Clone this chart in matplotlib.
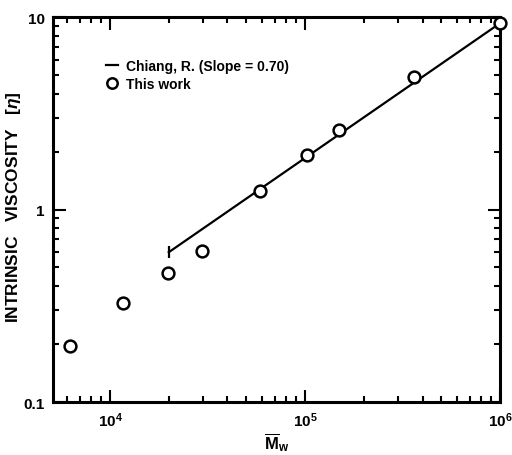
import matplotlib
matplotlib.use("Agg")
import matplotlib.pyplot as plt
from matplotlib.lines import Line2D
from matplotlib.ticker import LogLocator, NullFormatter, FixedLocator, FixedFormatter

plt.rcParams['font.family'] = ['Liberation Sans', 'DejaVu Sans']
plt.rcParams['font.weight'] = 'bold'
plt.rcParams['axes.labelweight'] = 'bold'
plt.rcParams['mathtext.fontset'] = 'custom'
plt.rcParams['mathtext.rm'] = 'Liberation Sans:bold'
plt.rcParams['mathtext.bf'] = 'Liberation Sans:bold'
plt.rcParams['mathtext.it'] = 'Liberation Sans:bold:italic'

# Data: this work
mw = [6200, 11700, 19800, 29700, 58800, 102000, 149000, 362000, 1000000]
visc = [0.195, 0.327, 0.468, 0.608, 1.25, 1.92, 2.59, 4.88, 9.3]

# Chiang, R. line (slope 0.70)
line_mw = [20000, 1000000]
line_visc = [0.60, 9.3]

fig = plt.figure(figsize=(5.12, 4.56), dpi=100)
ax = fig.add_axes([0.1035, 0.1162, 0.8735, 0.8443])
ax.set_xscale('log')
ax.set_yscale('log')
ax.set_xlim(5100, 1.0e6)
ax.set_ylim(0.1, 10)

ax.plot(line_mw, line_visc, color='black', lw=1.6, marker='|', markevery=[0],
        markersize=9, markeredgewidth=1.6)
ax.plot(mw, visc, linestyle='none', marker='o', markersize=8.5, markerfacecolor='white',
        markeredgecolor='black', markeredgewidth=1.8, clip_on=False, zorder=5)

for s in ax.spines.values():
    s.set_linewidth(2.2)

ax.xaxis.set_major_locator(FixedLocator([1e4, 1e5, 1e6]))
ax.xaxis.set_major_formatter(FixedFormatter([r'$10^4$', r'$10^5$', r'$10^6$']))
ax.xaxis.set_minor_locator(LogLocator(base=10, subs=range(2, 10)))
ax.xaxis.set_minor_formatter(NullFormatter())
ax.yaxis.set_major_locator(FixedLocator([0.1, 1, 10]))
ax.yaxis.set_major_formatter(FixedFormatter(['0.1', '1', '10']))
ax.yaxis.set_minor_locator(LogLocator(base=10, subs=range(2, 10)))
ax.yaxis.set_minor_formatter(NullFormatter())

ax.tick_params(which='both', direction='in', top=True, right=True, width=1.5, labelsize=11)
ax.tick_params(which='major', length=9, pad=6)
ax.tick_params(which='minor', length=4.5)

ax.set_xlabel(r'$\overline{\mathrm{M}}_{\mathrm{w}}$', fontsize=12, labelpad=1, fontweight='bold')
ax.set_ylabel('INTRINSIC   VISCOSITY   [$\\eta$]', fontsize=12.5, fontweight='bold')
ax.yaxis.set_label_coords(-0.066, 0.51)

handles = [Line2D([], [], color='black', lw=1.6),
           Line2D([], [], linestyle='none', marker='o', markersize=7.5, markerfacecolor='white',
                  markeredgecolor='black', markeredgewidth=1.8)]
labels = ['Chiang, R. (Slope = 0.70)', 'This work']
ax.legend(handles, labels, loc='upper left', bbox_to_anchor=(0.105, 0.905), frameon=False,
          handlelength=0.9, handletextpad=0.6, fontsize=10, labelspacing=0.25,
          borderaxespad=0)

fig.savefig('out.png', dpi=100)
